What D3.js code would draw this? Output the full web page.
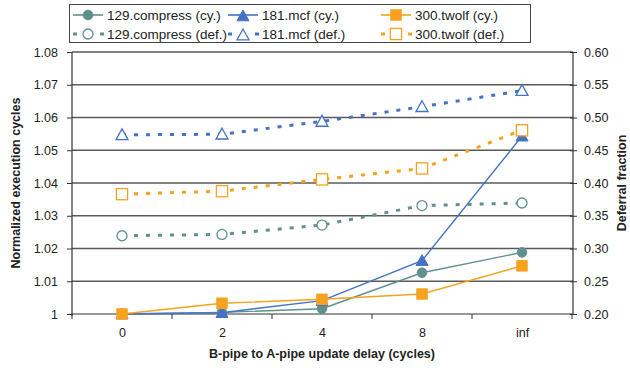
<!DOCTYPE html>
<html>
<head>
<meta charset="utf-8">
<script src="https://cdn.jsdelivr.net/npm/d3@7"></script>
<style>
  body { margin: 0; background: #fff; }
  svg { display: block; font-family: "Liberation Sans", Arial, sans-serif; }
</style>
</head>
<body>
<svg id="chart" width="630" height="368"></svg>
<script>
// Update delay categories
const delays = ["0", "2", "4", "8", "inf"];

// Normalized execution cycles (left axis)
const compressCy = [1.0, 1.0005, 1.0016, 1.0126, 1.0188];
const mcfCy      = [1.0, 1.0004, 1.0041, 1.0163, 1.0543];
const twolfCy    = [1.0, 1.0033, 1.0045, 1.0061, 1.0147];

// Deferral fraction (right axis)
const compressDef = [0.3195, 0.3215, 0.3358, 0.3655, 0.3695];
const mcfDef      = [0.4735, 0.4745, 0.4940, 0.5165, 0.5410];
const twolfDef    = [0.3830, 0.3875, 0.4055, 0.4222, 0.4805];

const leftTicks  = [1, 1.01, 1.02, 1.03, 1.04, 1.05, 1.06, 1.07, 1.08];
const rightTicks = [0.20, 0.25, 0.30, 0.35, 0.40, 0.45, 0.50, 0.55, 0.60];

const colors = { compress: "#5e918d", mcf: "#4472c4", twolf: "#f6a21e" };

const svg = d3.select("#chart");
const m = { left: 72, right: 573, top: 52, bottom: 314 };

const x = d3.scalePoint().domain(delays).range([m.left, m.right - 1]).padding(0.5);
const yL = d3.scaleLinear().domain([1, 1.08]).range([m.bottom, m.top]);
const yR = d3.scaleLinear().domain([0.20, 0.60]).range([m.bottom, m.top]);

// Gridlines
svg.append("g").selectAll("line").data(leftTicks.slice(1)).join("line")
  .attr("x1", m.left).attr("x2", m.right)
  .attr("y1", d => yL(d)).attr("y2", d => yL(d))
  .attr("stroke", "#5a5a5a").attr("stroke-width", 1.4);

// Left axis
const gL = svg.append("g").attr("transform", `translate(${m.left},0)`)
  .call(d3.axisLeft(yL).tickValues(leftTicks).tickFormat(d => d === 1 ? "1" : d3.format(".2f")(d)).tickSize(5).tickPadding(9));
// Right axis
const gR = svg.append("g").attr("transform", `translate(${m.right},0)`)
  .call(d3.axisRight(yR).tickValues(rightTicks).tickFormat(d3.format(".2f")).tickSize(4).tickPadding(7));
gR.selectAll(".tick line").attr("x1", -3);
// Bottom axis
const xTicks = d3.range(0, delays.length + 1).map(i => m.left + i * (m.right - 1 - m.left) / delays.length);
const gB = svg.append("g").attr("transform", `translate(0,${m.bottom})`)
  .call(d3.axisBottom(x).tickSize(0).tickPadding(14));
gB.selectAll(".tick line").remove();
gB.append("g").selectAll("line").data(xTicks).join("line")
  .attr("x1", d => d).attr("x2", d => d).attr("y1", 0).attr("y2", 5)
  .attr("stroke", "#333");

[gL, gR, gB].forEach(g => {
  g.selectAll(".domain").attr("stroke", "#333").attr("stroke-width", 1.2);
  g.selectAll(".tick line").attr("stroke", "#333");
  g.selectAll("text").attr("font-size", 12.5).attr("fill", "#222")
    .attr("font-family", "Liberation Sans, Arial, sans-serif");
});
gL.select(".domain").attr("d", `M0,${m.top}V${m.bottom + 2}`);
gR.select(".domain").attr("d", `M0,${m.top}V${m.bottom}`);
gB.select(".domain").attr("d", `M${m.left},0H${m.right}`);

// Axis titles
svg.append("text").attr("transform", `translate(20,${(m.top + m.bottom) / 2}) rotate(-90)`)
  .attr("text-anchor", "middle").attr("font-size", 12.5).attr("font-weight", "bold")
  .attr("fill", "#222").text("Normalized execution cycles");
svg.append("text").attr("transform", `translate(626,${(m.top + m.bottom) / 2}) rotate(-90)`)
  .attr("text-anchor", "middle").attr("font-size", 12.5).attr("font-weight", "bold")
  .attr("fill", "#222").text("Deferral fraction");
svg.append("text").attr("x", 322).attr("y", 358)
  .attr("text-anchor", "middle").attr("font-size", 12.5).attr("font-weight", "bold")
  .attr("fill", "#222").text("B-pipe to A-pipe update delay (cycles)");

// Marker drawing
function marker(g, shape, cx, cy, color, filled) {
  const fill = filled ? color : "#fff";
  if (shape === "circle") {
    g.append("circle").attr("cx", cx).attr("cy", cy).attr("r", filled ? 4.8 : 5)
      .attr("fill", fill).attr("stroke", color).attr("stroke-width", filled ? 1 : 1.3);
  } else if (shape === "triangle") {
    const s = 6;
    g.append("path").attr("d", `M${cx},${cy - s}L${cx + s},${cy + s * 0.8}L${cx - s},${cy + s * 0.8}Z`)
      .attr("fill", fill).attr("stroke", color).attr("stroke-width", filled ? 1 : 1.3);
  } else {
    const s = filled ? 5.2 : 5.6;
    g.append("rect").attr("x", cx - s).attr("y", cy - s).attr("width", 2 * s).attr("height", 2 * s)
      .attr("fill", fill).attr("stroke", color).attr("stroke-width", filled ? 1 : 1.3);
  }
}

// Cycle series are drawn first, deferral series on top of them
const series = [
  { vals: compressCy,  y: yL, color: colors.compress, shape: "circle", filled: true },
  { vals: mcfCy,       y: yL, color: colors.mcf,      shape: "triangle", filled: true },
  { vals: twolfCy,     y: yL, color: colors.twolf,    shape: "square", filled: true },
  { vals: compressDef, y: yR, color: colors.compress, shape: "circle", filled: false },
  { vals: mcfDef,      y: yR, color: colors.mcf,      shape: "triangle", filled: false },
  { vals: twolfDef,    y: yR, color: colors.twolf,    shape: "square", filled: false }
];

const plot = svg.append("g");
series.forEach(s => {
  const line = d3.line().x((d, i) => x(delays[i])).y(d => s.y(d));
  plot.append("path").datum(s.vals).attr("d", line).attr("fill", "none")
    .attr("stroke", s.color)
    .attr("stroke-width", s.filled ? 1.4 : 3)
    .attr("stroke-dasharray", s.filled ? null : "4,8");
  const g = plot.append("g");
  s.vals.forEach((v, i) => marker(g, s.shape, x(delays[i]), s.y(v), s.color, s.filled));
});

// Legend
const legend = svg.append("g");
legend.append("rect").attr("x", 69.5).attr("y", 4.5).attr("width", 461).attr("height", 38)
  .attr("fill", "#fff").attr("stroke", "#444").attr("stroke-width", 1);
const legItems = [
  { label: "129.compress (cy.)",  col: 73,  row: 15, color: colors.compress, shape: "circle", filled: true },
  { label: "181.mcf (cy.)",       col: 228, row: 15, color: colors.mcf, shape: "triangle", filled: true },
  { label: "300.twolf (cy.)",     col: 381, row: 15, color: colors.twolf, shape: "square", filled: true },
  { label: "129.compress (def.)", col: 73,  row: 34, color: colors.compress, shape: "circle", filled: false },
  { label: "181.mcf (def.)",      col: 228, row: 34, color: colors.mcf, shape: "triangle", filled: false },
  { label: "300.twolf (def.)",    col: 381, row: 34, color: colors.twolf, shape: "square", filled: false }
];
legItems.forEach(it => {
  const g = legend.append("g");
  if (it.filled) {
    g.append("line").attr("x1", it.col).attr("x2", it.col + 30).attr("y1", it.row).attr("y2", it.row)
      .attr("stroke", it.color).attr("stroke-width", 1.6);
  } else {
    [0, 27].forEach(dx => g.append("rect").attr("x", it.col + dx).attr("y", it.row - 1.5)
      .attr("width", 4).attr("height", 3).attr("fill", it.color));
  }
  marker(g, it.shape, it.col + 15, it.row + (it.shape === "triangle" ? 1 : 0), it.color, it.filled);
  g.append("text").attr("x", it.col + 34).attr("y", it.row + 4.5)
    .attr("font-size", 13.5).attr("fill", "#222").text(it.label);
});
</script>
</body>
</html>
